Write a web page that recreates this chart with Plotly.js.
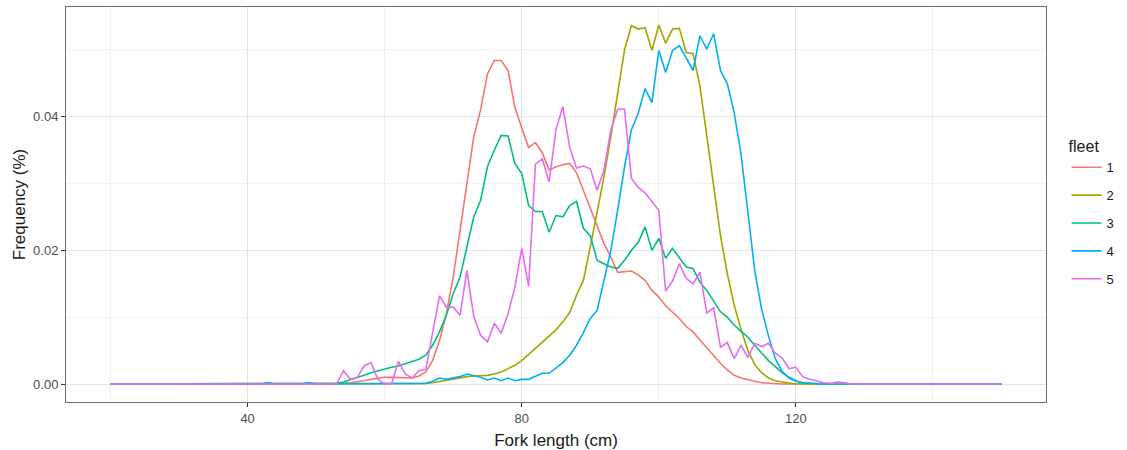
<!DOCTYPE html>
<html>
<head>
<meta charset="utf-8">
<script src="https://cdn.plot.ly/plotly-3.0.1.min.js"></script>
<style>
  html, body { margin: 0; padding: 0; background: #ffffff; }
  #chart { width: 1127px; height: 450px; }
</style>
</head>
<body>
<div id="chart"></div>
<script>
// Fork length bins (cm)
const forkLength = [
  20, 21, 22, 23, 24, 25, 26, 27, 28, 29,
  30, 31, 32, 33, 34, 35, 36, 37, 38, 39,
  40, 41, 42, 43, 44, 45, 46, 47, 48, 49,
  50, 51, 52, 53, 54, 55, 56, 57, 58, 59,
  60, 61, 62, 63, 64, 65, 66, 67, 68, 69,
  70, 71, 72, 73, 74, 75, 76, 77, 78, 79,
  80, 81, 82, 83, 84, 85, 86, 87, 88, 89,
  90, 91, 92, 93, 94, 95, 96, 97, 98, 99,
  100, 101, 102, 103, 104, 105, 106, 107, 108, 109,
  110, 111, 112, 113, 114, 115, 116, 117, 118, 119,
  120, 121, 122, 123, 124, 125, 126, 127, 128, 129,
  130, 131, 132, 133, 134, 135, 136, 137, 138, 139,
  140, 141, 142, 143, 144, 145, 146, 147, 148, 149,
  150
];

const fleetNames = ["1", "2", "3", "4", "5"];

// Relative frequency per fork-length bin, one array per fleet
const fleet1 = [
  0, 0, 0, 0, 0, 0, 0, 0, 0, 0,
  0, 0, 0, 0, 0, 0, 0, 0, 0, 0,
  0, 0, 0, 0, 0, 0, 0, 0, 0, 0,
  0, 0, 0, 0, 0.0001, 0.0002, 0.0003, 0.0005, 0.0007, 0.0009,
  0.0010, 0.0010, 0.0010, 0.0009, 0.0009, 0.0012, 0.0018, 0.0035, 0.0065, 0.0105,
  0.0160, 0.0230, 0.0300, 0.0370, 0.0410, 0.0464, 0.0484, 0.0484, 0.0469, 0.0414,
  0.0383, 0.0354, 0.0361, 0.0346, 0.0320, 0.0325, 0.0328, 0.0330, 0.0316, 0.0290,
  0.0263, 0.0237, 0.0210, 0.0190, 0.0167, 0.0168, 0.0169, 0.0163, 0.0155, 0.0140,
  0.0130, 0.0117, 0.0107, 0.0098, 0.0086, 0.0078, 0.0066, 0.0054, 0.0043, 0.0031,
  0.0021, 0.0013, 0.0009, 0.0006, 0.0004, 0.0002, 0.0001, 0.0001, 0, 0,
  0, 0, 0, 0, 0, 0, 0, 0, 0, 0,
  0, 0, 0, 0, 0, 0, 0, 0, 0, 0,
  0, 0, 0, 0, 0, 0, 0, 0, 0, 0,
  0
];

const fleet2 = [
  0, 0, 0, 0, 0, 0, 0, 0, 0, 0,
  0, 0, 0, 0, 0, 0, 0, 0, 0, 0,
  0, 0, 0, 0, 0, 0, 0, 0, 0, 0,
  0, 0, 0, 0, 0, 0, 0, 0, 0, 0,
  0, 0, 0, 0, 0, 0, 0.0001, 0.0002, 0.0004, 0.0006,
  0.0008, 0.0010, 0.0011, 0.0012, 0.0012, 0.0013, 0.0015, 0.0018, 0.0023, 0.0028,
  0.0035, 0.0044, 0.0054, 0.0063, 0.0071, 0.0081, 0.0093, 0.0107, 0.0133, 0.0155,
  0.0205, 0.0255, 0.0310, 0.0370, 0.0435, 0.0500, 0.0536, 0.0531, 0.0533, 0.0499,
  0.0537, 0.0510, 0.0531, 0.0532, 0.0496, 0.0494, 0.0446, 0.0369, 0.0297, 0.0222,
  0.0165, 0.0118, 0.0082, 0.0050, 0.0029, 0.0017, 0.0009, 0.0005, 0.0003, 0.0001,
  0, 0, 0, 0, 0, 0, 0, 0, 0, 0,
  0, 0, 0, 0, 0, 0, 0, 0, 0, 0,
  0, 0, 0, 0, 0, 0, 0, 0, 0, 0,
  0
];

const fleet3 = [
  0, 0, 0, 0, 0, 0, 0, 0, 0, 0,
  0, 0, 0, 0, 0, 0, 0, 0, 0, 0,
  0, 0, 0, 0, 0, 0, 0, 0, 0, 0,
  0, 0, 0, 0.0001, 0.0003, 0.0006, 0.0009, 0.0013, 0.0017, 0.0020,
  0.0022, 0.0025, 0.0027, 0.0030, 0.0033, 0.0037, 0.0043, 0.0058, 0.0078, 0.0103,
  0.0135, 0.0160, 0.0205, 0.0250, 0.0275, 0.0325, 0.0350, 0.0372, 0.0371, 0.0330,
  0.0315, 0.0267, 0.0258, 0.0258, 0.0227, 0.0252, 0.0250, 0.0267, 0.0273, 0.0233,
  0.0222, 0.0185, 0.0180, 0.0175, 0.0173, 0.0185, 0.0200, 0.0212, 0.0235, 0.0200,
  0.0218, 0.0188, 0.0203, 0.0188, 0.0175, 0.0173, 0.0152, 0.0140, 0.0125, 0.0108,
  0.0100, 0.0088, 0.0079, 0.0070, 0.0058, 0.0046, 0.0035, 0.0026, 0.0017, 0.0010,
  0.0005, 0.0002, 0.0001, 0, 0, 0, 0, 0, 0, 0,
  0, 0, 0, 0, 0, 0, 0, 0, 0, 0,
  0, 0, 0, 0, 0, 0, 0, 0, 0, 0,
  0
];

const fleet4 = [
  0, 0, 0, 0, 0, 0, 0, 0, 0, 0,
  0, 0, 0, 0, 0, 0, 0, 0, 0, 0,
  0, 0, 0, 0.0002, 0, 0, 0, 0, 0, 0.0002,
  0, 0, 0, 0, 0, 0, 0, 0, 0, 0,
  0, 0, 0, 0, 0, 0, 0.0001, 0.0004, 0.0009, 0.0007,
  0.0009, 0.0011, 0.0015, 0.0013, 0.0010, 0.0006, 0.0009, 0.0005, 0.0009, 0.0005,
  0.0007, 0.0007, 0.0012, 0.0016, 0.0016, 0.0024, 0.0032, 0.0043, 0.0058, 0.0077,
  0.0098, 0.0110, 0.0155, 0.0200, 0.0260, 0.0325, 0.0380, 0.0405, 0.0442, 0.0421,
  0.0499, 0.0466, 0.0499, 0.0506, 0.0488, 0.0469, 0.0521, 0.0501, 0.0524, 0.0469,
  0.0449, 0.0406, 0.0344, 0.0255, 0.0170, 0.0112, 0.0072, 0.0038, 0.0019, 0.0009,
  0.0004, 0.0002, 0.0001, 0, 0, 0, 0.0003, 0.0002, 0, 0,
  0, 0, 0, 0, 0, 0, 0, 0, 0, 0,
  0, 0, 0, 0, 0, 0, 0, 0, 0, 0,
  0
];

const fleet5 = [
  0, 0, 0, 0, 0, 0, 0, 0, 0, 0,
  0, 0, 0, 0, 0, 0, 0, 0, 0, 0,
  0, 0, 0, 0.0001, 0, 0, 0, 0, 0, 0.0001,
  0, 0, 0, 0, 0.0020, 0.0007, 0.0010, 0.0027, 0.0032, 0.0007,
  0, 0, 0.0034, 0.0015, 0.0009, 0.0020, 0.0022, 0.0075, 0.0132, 0.0115,
  0.0115, 0.0103, 0.0170, 0.0101, 0.0073, 0.0063, 0.0091, 0.0076, 0.0105, 0.0145,
  0.0203, 0.0146, 0.0329, 0.0337, 0.0302, 0.0381, 0.0415, 0.0354, 0.0323, 0.0326,
  0.0322, 0.0290, 0.0320, 0.0380, 0.0411, 0.0411, 0.0308, 0.0294, 0.0286, 0.0273,
  0.0260, 0.0139, 0.0154, 0.0180, 0.0158, 0.0150, 0.0167, 0.0106, 0.0114, 0.0055,
  0.0062, 0.0038, 0.0058, 0.0040, 0.0061, 0.0056, 0.0061, 0.0046, 0.0039, 0.0023,
  0.0025, 0.0011, 0.0007, 0.0005, 0.0002, 0.0001, 0.0002, 0.0002, 0, 0,
  0, 0, 0, 0, 0, 0, 0, 0, 0, 0,
  0, 0, 0, 0, 0, 0, 0, 0, 0, 0,
  0
];

const fleetSeries = [fleet1, fleet2, fleet3, fleet4, fleet5];
const fleetColors = ["#F8766D", "#A3A500", "#00BF7D", "#00B0F6", "#E76BF3"];

const FONT = "Liberation Sans, Arial, Helvetica, sans-serif";

const traces = fleetSeries.map((vals, i) => ({
  type: "scatter",
  mode: "lines",
  x: forkLength,
  y: vals,
  name: fleetNames[i],
  legendgroup: "g" + fleetNames[i],
  line: { color: fleetColors[i], width: 1.6 },
  hoverinfo: "x+y+name"
}));

const gridMajor = "#e4e4e4";
const gridMinor = "#f0f0f0";

const layout = {
  width: 1127,
  height: 450,
  paper_bgcolor: "#ffffff",
  plot_bgcolor: "#ffffff",
  margin: { l: 66, r: 79, t: 7, b: 48, pad: 0 },
  font: { family: FONT, size: 13, color: "#4d4d4d" },
  showlegend: true,
  xaxis: {
    range: [13.5, 156.5],
    tick0: 0,
    dtick: 40,
    tickmode: "linear",
    ticks: "outside",
    ticklen: 4,
    tickwidth: 1,
    tickcolor: "#333333",
    tickfont: { family: FONT, size: 13, color: "#4d4d4d" },
    showgrid: true,
    gridcolor: gridMajor,
    gridwidth: 1.3,
    minor: { dtick: 20, tick0: 0, showgrid: true, gridcolor: gridMinor, gridwidth: 0.9, ticks: "" },
    zeroline: false,
    showline: true,
    mirror: true,
    linecolor: "#6e6e6e",
    linewidth: 1,
    automargin: false,
    title: { text: "Fork length (cm)", font: { family: FONT, size: 17, color: "#1a1a1a" }, standoff: 9 }
  },
  yaxis: {
    range: [-0.00269, 0.0564],
    tick0: 0,
    dtick: 0.02,
    tickmode: "linear",
    tickformat: ".2f",
    ticks: "outside",
    ticklen: 4,
    tickwidth: 1,
    tickcolor: "#333333",
    tickfont: { family: FONT, size: 13, color: "#4d4d4d" },
    showgrid: true,
    gridcolor: gridMajor,
    gridwidth: 1.3,
    minor: { dtick: 0.01, tick0: 0, showgrid: true, gridcolor: gridMinor, gridwidth: 0.9, ticks: "" },
    zeroline: false,
    showline: true,
    mirror: true,
    linecolor: "#6e6e6e",
    linewidth: 1,
    automargin: false,
    title: { text: "Frequency (%)", font: { family: FONT, size: 17, color: "#1a1a1a" }, standoff: 3 }
  },
  legend: {
    x: 1.021,
    xanchor: "left",
    y: 0.685,
    yanchor: "top",
    bgcolor: "rgba(0,0,0,0)",
    borderwidth: 0,
    tracegroupgap: 8,
    itemwidth: 30,
    font: { family: FONT, size: 13, color: "#1a1a1a" },
    title: { text: "fleet", side: "top", font: { family: FONT, size: 16, color: "#1a1a1a" } }
  }
};

Plotly.newPlot("chart", traces, layout, { displayModeBar: false, staticPlot: false, responsive: false });
</script>
</body>
</html>
